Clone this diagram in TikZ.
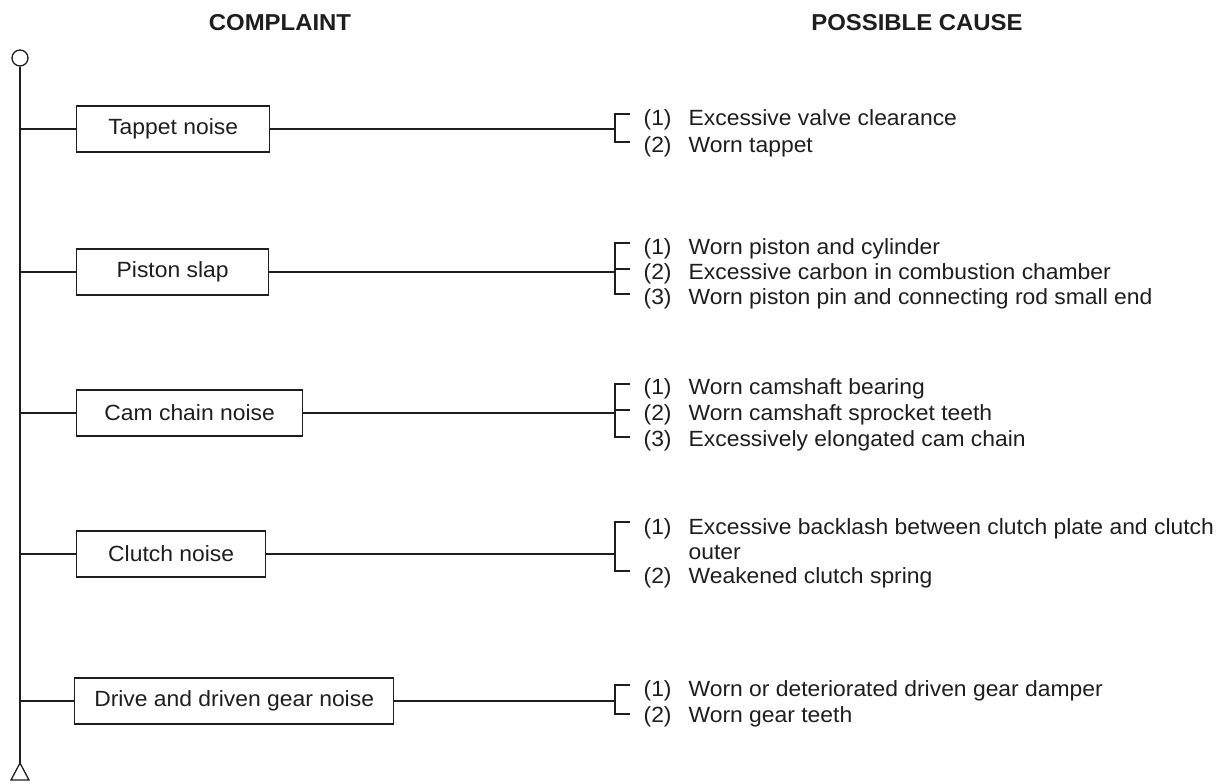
\documentclass[tikz,border=0pt]{standalone}
\usepackage{fontspec}
\setmainfont[FakeStretch=1.04]{Liberation Sans}
\definecolor{ink}{HTML}{1E1E1E}
\newcommand\bodyf{\fontsize{22}{26}\selectfont}
\newcommand\ttlf{\fontsize{23}{27}\selectfont\bfseries}
\begin{document}
\begin{tikzpicture}[x=1pt,y=-1pt, line width=1.3pt, draw=ink, color=ink,
  cbox/.style={draw, rectangle, minimum height=46pt, inner sep=0pt, font=\bodyf, anchor=west},
  lbl/.style={anchor=base west, inner sep=0pt, font=\bodyf},
  ttl/.style={anchor=base, inner sep=0pt, font=\ttlf}]
\useasboundingbox (0,0) rectangle (1218,784);

% titles
\node[ttl] (tc) at (280,31) {COMPLAINT};
\node[ttl] (tp) at (917,31) {POSSIBLE CAUSE};

% spine
\node[circle, draw, minimum size=16pt, inner sep=0pt] (top) at (20,58) {};
\coordinate (apex) at (20,763);
\coordinate (tl) at (11,780);
\coordinate (tr) at (29,780);
\draw (top.south) -- (apex);
\draw (apex) -- (tl) -- (tr) -- cycle;

% complaint boxes
\node[cbox, minimum width=193pt] (b1) at (76,129) {Tappet noise};
\node[cbox, minimum width=192pt] (b2) at (76,272) {Piston slap};
\node[cbox, minimum width=226pt] (b3) at (76,413) {Cam chain noise};
\node[cbox, minimum width=189pt] (b4) at (76,554) {Clutch noise};
\node[cbox, minimum width=319pt] (b5) at (74,701) {Drive and driven gear noise};

% spine junctions and bracket junctions
\foreach \i/\y in {1/129,2/272,3/413,4/554,5/701}{
  \coordinate (s\i) at (20,\y);
  \coordinate (k\i) at (615,\y);
  \draw (s\i) -- (b\i.west);
  \draw (b\i.east) -- (k\i);
}

% brackets
\draw (630,114) -- (615,114) -- (615,142) -- (630,142);
\draw (630,243) -- (615,243) -- (615,294) -- (630,294);
\draw (615,269) -- (630,269);
\draw (630,384) -- (615,384) -- (615,437) -- (630,437);
\draw (615,410) -- (630,410);
\draw (630,522) -- (615,522) -- (615,571) -- (630,571);
\draw (630,685) -- (615,685) -- (615,714) -- (630,714);

% causes
\node[lbl] at (643,125) {(1)}; \node[lbl] at (688,125) {Excessive valve clearance};
\node[lbl] at (643,152) {(2)}; \node[lbl] at (688,152) {Worn tappet};

\node[lbl] at (643,254) {(1)}; \node[lbl] at (688,254) {Worn piston and cylinder};
\node[lbl] at (643,279) {(2)}; \node[lbl] at (688,279) {Excessive carbon in combustion chamber};
\node[lbl] at (643,304) {(3)}; \node[lbl] at (688,304) {Worn piston pin and connecting rod small end};

\node[lbl] at (643,394) {(1)}; \node[lbl] at (688,394) {Worn camshaft bearing};
\node[lbl] at (643,420) {(2)}; \node[lbl] at (688,420) {Worn camshaft sprocket teeth};
\node[lbl] at (643,446) {(3)}; \node[lbl] at (688,446) {Excessively elongated cam chain};

\node[lbl] at (643,534) {(1)}; \node[lbl] at (688,534) {Excessive backlash between clutch plate and clutch};
\node[lbl] at (688,559) {outer};
\node[lbl] at (643,583) {(2)}; \node[lbl] at (688,583) {Weakened clutch spring};

\node[lbl] at (643,696) {(1)}; \node[lbl] at (688,696) {Worn or deteriorated driven gear damper};
\node[lbl] at (643,722) {(2)}; \node[lbl] at (688,722) {Worn gear teeth};
\end{tikzpicture}
\end{document}
